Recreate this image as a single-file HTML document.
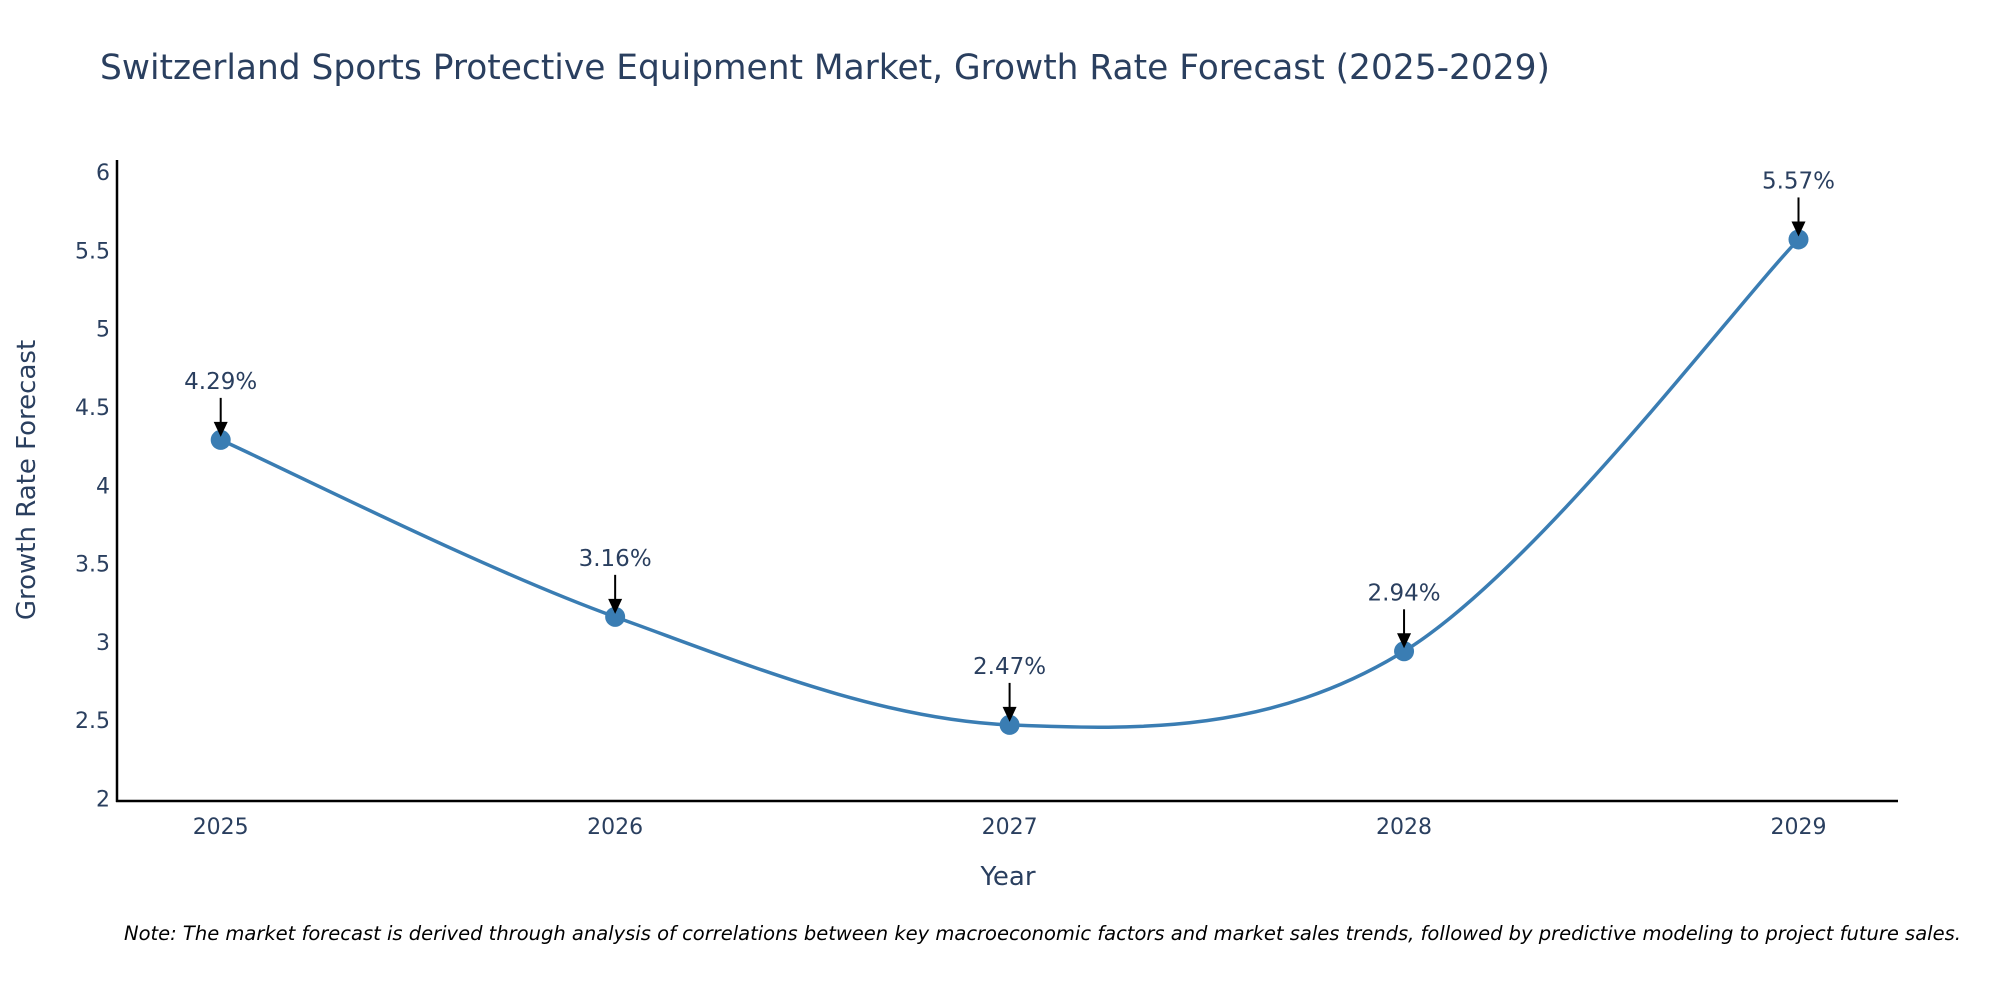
<!DOCTYPE html>
<html><head><meta charset="utf-8"><style>
body{margin:0;background:#fff;overflow:hidden;}
svg{display:block;font-family:"DejaVu Sans","Liberation Sans",sans-serif;}
</style></head><body>
<svg id="chart" width="2000" height="1000">
<text x="100" y="79" font-size="34.4" fill="#2a3f5f">Switzerland Sports Protective Equipment Market, Growth Rate Forecast (2025-2029)</text>
<g id="yticks"></g><g id="xticks"></g>
<line x1="117" y1="160" x2="117" y2="802" stroke="#000" stroke-width="2.5"/>
<line x1="116" y1="801" x2="1898" y2="801" stroke="#000" stroke-width="2.5"/>
<text x="1008" y="885" font-size="26" fill="#2a3f5f" text-anchor="middle">Year</text>
<text transform="translate(35,480) rotate(-90)" font-size="26" fill="#2a3f5f" text-anchor="middle">Growth Rate Forecast</text>
<path id="line" fill="none" stroke="#3a7db3" stroke-width="3.5"/>
<g id="marks"></g>
<text x="124" y="940" font-size="19.5" font-style="italic" fill="#000">Note: The market forecast is derived through analysis of correlations between key macroeconomic factors and market sales trends, followed by predictive modeling to project future sales.</text>
</svg>
<script>
const years = [2025, 2026, 2027, 2028, 2029];
const rates = [4.29, 3.16, 2.47, 2.94, 5.57];
const yTicks = [2, 2.5, 3, 3.5, 4, 4.5, 5, 5.5, 6];
const NS = "http://www.w3.org/2000/svg";
function xS(v){return 220.7 + (v - 2025) * 394.45;}
function yS(v){return 798.5 - (v - 2) * 156.6;}
const yt = document.getElementById('yticks');
yTicks.forEach(t => {
  const e = document.createElementNS(NS, 'text');
  
  
  e.setAttribute('x', 110); e.setAttribute('y', yS(t) + 8);
  e.setAttribute('text-anchor', 'end'); e.setAttribute('font-size', '22'); e.setAttribute('fill', '#2a3f5f');
  e.textContent = String(t); yt.appendChild(e);
});
const xt = document.getElementById('xticks');
years.forEach(y => {
  const e = document.createElementNS(NS, 'text');
  
  
  e.setAttribute('x', xS(y)); e.setAttribute('y', 834);
  e.setAttribute('text-anchor', 'middle'); e.setAttribute('font-size', '22'); e.setAttribute('fill', '#2a3f5f');
  e.textContent = String(y); xt.appendChild(e);
});
const pts = years.map((y, i) => [xS(y), yS(rates[i])]);
let d = 'M' + pts[0][0] + ',' + pts[0][1];
const s = 1 / 6;
for (let i = 0; i < pts.length - 1; i++) {
  const p0 = pts[Math.max(0, i - 1)], p1 = pts[i], p2 = pts[i + 1], p3 = pts[Math.min(pts.length - 1, i + 2)];
  const c1 = [p1[0] + (p2[0] - p0[0]) * s, p1[1] + (p2[1] - p0[1]) * s];
  const c2 = [p2[0] - (p3[0] - p1[0]) * s, p2[1] - (p3[1] - p1[1]) * s];
  d += ' C' + c1 + ' ' + c2 + ' ' + p2;
}
document.getElementById('line').setAttribute('d', d);
const mg = document.getElementById('marks');
pts.forEach((p, i) => {
  const c = document.createElementNS(NS, 'circle');
  
  
  c.setAttribute('cx', p[0]); c.setAttribute('cy', p[1]); c.setAttribute('r', 10); c.setAttribute('fill', '#3a7db3');
  mg.appendChild(c);
  const l = document.createElementNS(NS, 'line');
  
  
  l.setAttribute('x1', p[0]); l.setAttribute('y1', p[1] - 42); l.setAttribute('x2', p[0]); l.setAttribute('y2', p[1] - 14);
  l.setAttribute('stroke', '#000'); l.setAttribute('stroke-width', '2');
  mg.appendChild(l);
  const a = document.createElementNS(NS, 'polygon');
  
  
  a.setAttribute('points', (p[0] - 7) + ',' + (p[1] - 18) + ' ' + (p[0] + 7) + ',' + (p[1] - 18) + ' ' + p[0] + ',' + (p[1] - 3));
  a.setAttribute('fill', '#000');
  mg.appendChild(a);
  const t = document.createElementNS(NS, 'text');
  
  
  t.setAttribute('x', p[0]); t.setAttribute('y', p[1] - 51);
  t.setAttribute('text-anchor', 'middle'); t.setAttribute('font-size', '23'); t.setAttribute('fill', '#2a3f5f');
  t.textContent = rates[i].toFixed(2) + '%';
  mg.appendChild(t);
});
</script>
</body></html>
